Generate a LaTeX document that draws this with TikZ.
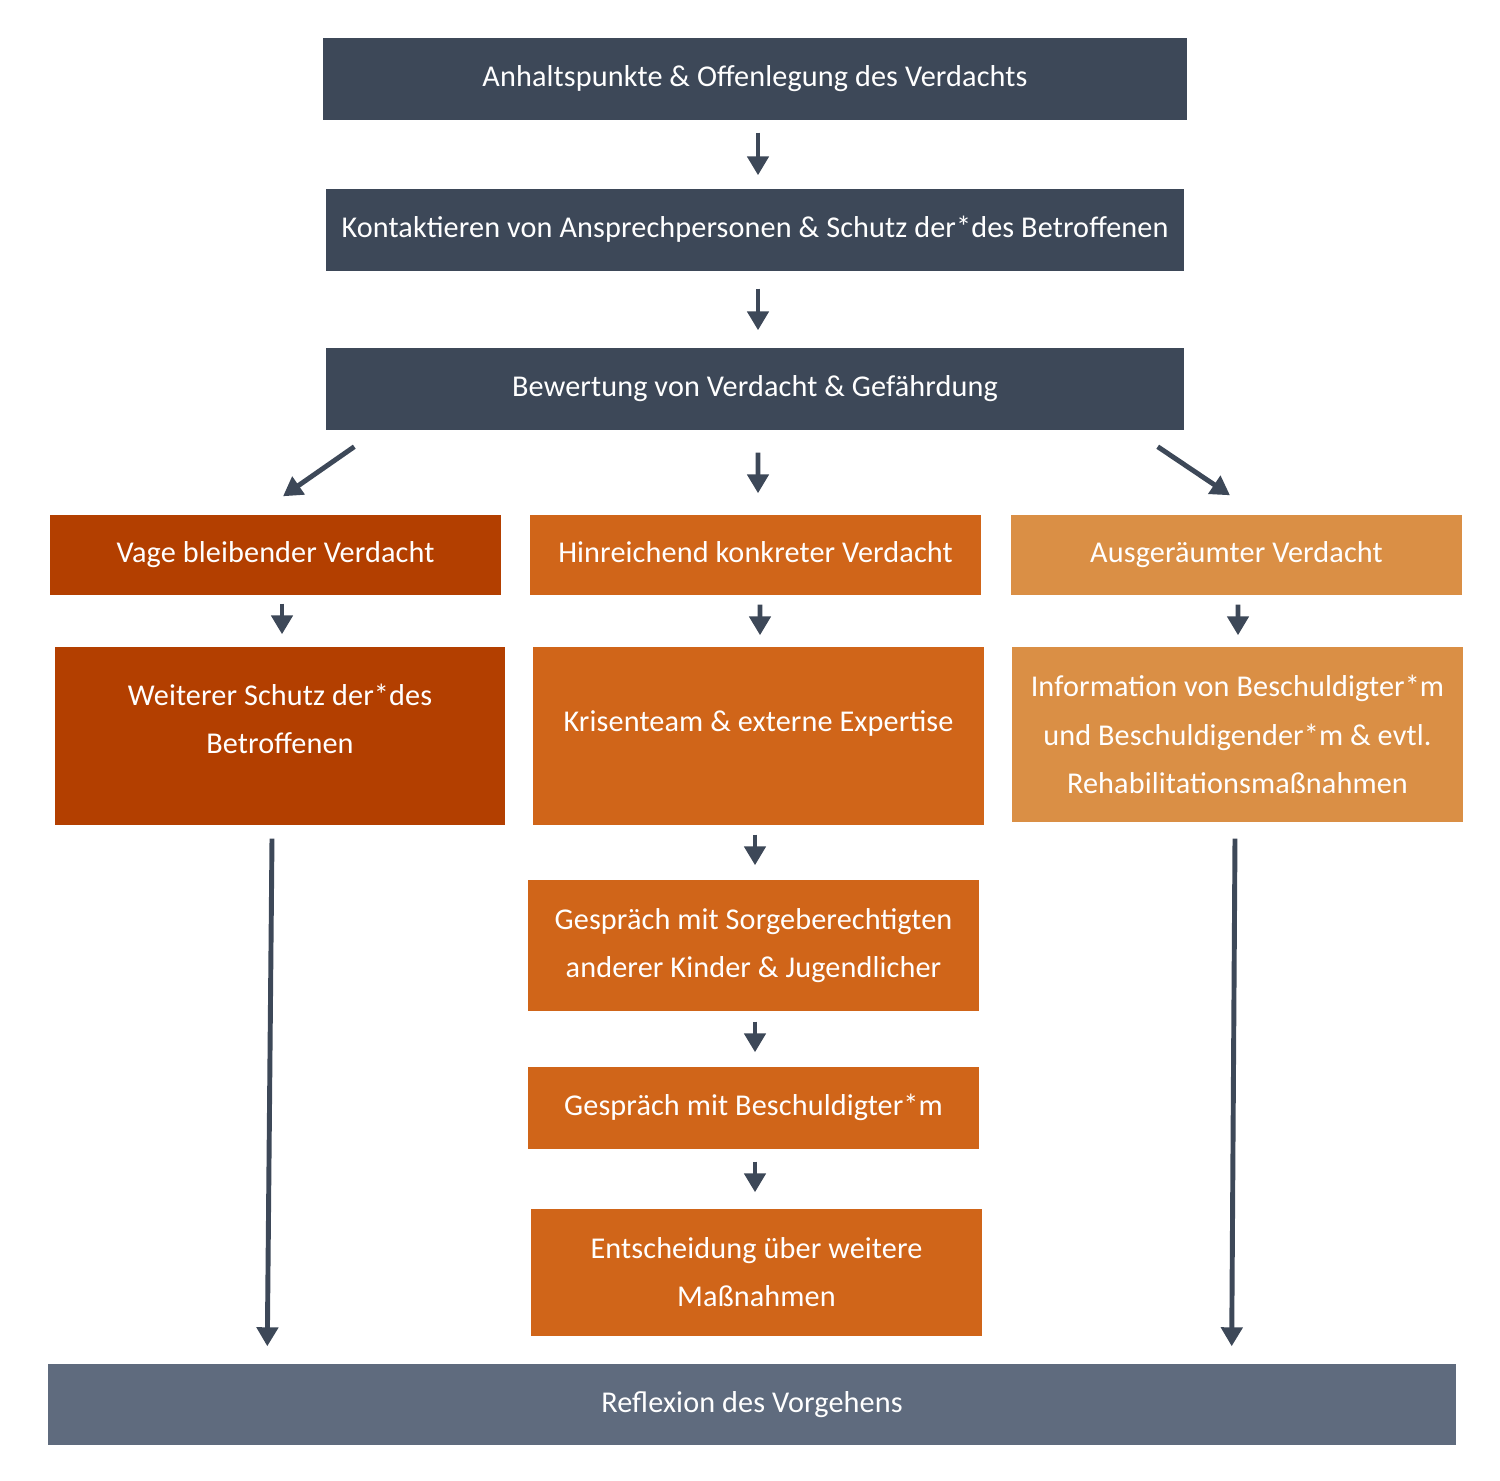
\documentclass[tikz,border=0pt]{standalone}
\usepackage{fontspec}
\setmainfont{Carlito}
\usetikzlibrary{arrows.meta}
\definecolor{slate}{HTML}{3D4858}
\definecolor{rust}{HTML}{B33F00}
\definecolor{amber}{HTML}{D06519}
\definecolor{sand}{HTML}{DA8F45}
\definecolor{steel}{HTML}{5F6B7E}
\tikzset{
  stepbox/.style={draw=none, inner sep=0pt, text=white, align=center,
    font=\fontsize{8.6}{13.7}\selectfont\addfontfeature{LetterSpace=0.4}},
  oneline/.style={text height=1.7ex, text depth=0.8ex},
  flow/.style={draw=slate, line width=1.4pt, -{Triangle[width=0.21cm,length=0.19cm]}},
}
\begin{document}
\begin{tikzpicture}
\useasboundingbox (0,0) rectangle (15,-14.81);
\pgfmathsetmacro\colw{4.51};
% Kopfzeile
\node (anh) [stepbox, oneline, fill=slate, minimum width=8.64cm, minimum height=0.82cm] at (7.55,-0.79) {Anhaltspunkte \& Offenlegung des Verdachts};
\node (kont) [stepbox, oneline, fill=slate, minimum width=8.58cm, minimum height=0.82cm] at (7.55,-2.30) {Kontaktieren von Ansprechpersonen \& Schutz der*des Betroffenen};
\node (bew) [stepbox, oneline, fill=slate, minimum width=8.58cm, minimum height=0.82cm] at (7.55,-3.89) {Bewertung von Verdacht \& Gefährdung};
% drei Spalten
\node (vage) [stepbox, oneline, fill=rust, minimum width=\colw cm, minimum height=0.80cm] at (2.755,-5.55) {Vage bleibender Verdacht};
\node (hin) [stepbox, oneline, fill=amber, minimum width=\colw cm, minimum height=0.80cm] at (7.555,-5.55) {Hinreichend konkreter Verdacht};
\node (aus) [stepbox, oneline, fill=sand, minimum width=\colw cm, minimum height=0.80cm] at (12.365,-5.55) {Ausgeräumter Verdacht};
\node (schutz) [stepbox, fill=rust, minimum width=4.50cm, minimum height=1.78cm, text depth=0.34cm] at (2.80,-7.36) {Weiterer Schutz der*des\\Betroffenen};
\node (krise) [stepbox, oneline, fill=amber, minimum width=\colw cm, minimum height=1.78cm, text depth=0.38cm] at (7.585,-7.36) {Krisenteam \& externe Expertise};
\node (info) [stepbox, fill=sand, minimum width=\colw cm, minimum height=1.75cm] at (12.375,-7.345) {Information von Beschuldigter*m\\und Beschuldigender*m \& evtl.\\Rehabilitationsmaßnahmen};
\node (sorge) [stepbox, fill=amber, minimum width=\colw cm, minimum height=1.31cm] at (7.535,-9.455) {Gespräch mit Sorgeberechtigten\\anderer Kinder \& Jugendlicher};
\node (besch) [stepbox, oneline, fill=amber, minimum width=\colw cm, minimum height=0.82cm] at (7.535,-11.08) {Gespräch mit Beschuldigter*m};
\node (entsch) [stepbox, fill=amber, minimum width=\colw cm, minimum height=1.27cm] at (7.565,-12.725) {Entscheidung über weitere\\Maßnahmen};
% Abschluss
\node (refl) [stepbox, oneline, fill=steel, minimum width=14.08cm, minimum height=0.81cm] at (7.52,-14.045) {Reflexion des Vorgehens};
% Pfeile
\draw[flow, shorten <=0.12cm, shorten >=0.13cm] ([xshift=0.03cm]anh.south) -- ([xshift=0.03cm]kont.north);
\draw[flow, shorten <=0.17cm, shorten >=0.17cm] ([xshift=0.03cm]kont.south) -- ([xshift=0.03cm]bew.north);
\draw[flow, shorten <=0.22cm, shorten >=0.21cm] ([xshift=0.03cm]bew.south) -- ([xshift=0.025cm]hin.north);
\draw[flow] ([shift={(0.29,-0.16)}]bew.south west) -- ([shift={(0.075,0.18)}]vage.north);
\draw[flow] ([shift={(-0.27,-0.16)}]bew.south east) -- ([shift={(-0.065,0.19)}]aus.north);
\draw[flow, shorten <=0.08cm, shorten >=0.12cm] ([xshift=0.065cm]vage.south) -- ([xshift=0.02cm]schutz.north);
\draw[flow, shorten <=0.09cm, shorten >=0.11cm] ([xshift=0.045cm]hin.south) -- ([xshift=0.015cm]krise.north);
\draw[flow, shorten <=0.09cm, shorten >=0.11cm] ([xshift=0.015cm]aus.south) -- ([xshift=0.005cm]info.north);
\draw[flow, shorten <=0.09cm, shorten >=0.14cm] ([xshift=-0.035cm]krise.south) -- ([xshift=0.015cm]sorge.north);
\draw[flow, shorten <=0.10cm, shorten >=0.14cm] ([xshift=0.015cm]sorge.south) -- ([xshift=0.015cm]besch.north);
\draw[flow, shorten <=0.12cm, shorten >=0.16cm] ([xshift=0.015cm]besch.south) -- ([xshift=-0.015cm]entsch.north);
\draw[flow] ([shift={(-0.08,-0.13)}]schutz.south) -- ([shift={(2.20,0.17)}]refl.north west);
\draw[flow] ([shift={(-0.025,-0.16)}]info.south) -- ([shift={(-2.25,0.17)}]refl.north east);
\end{tikzpicture}
\end{document}
